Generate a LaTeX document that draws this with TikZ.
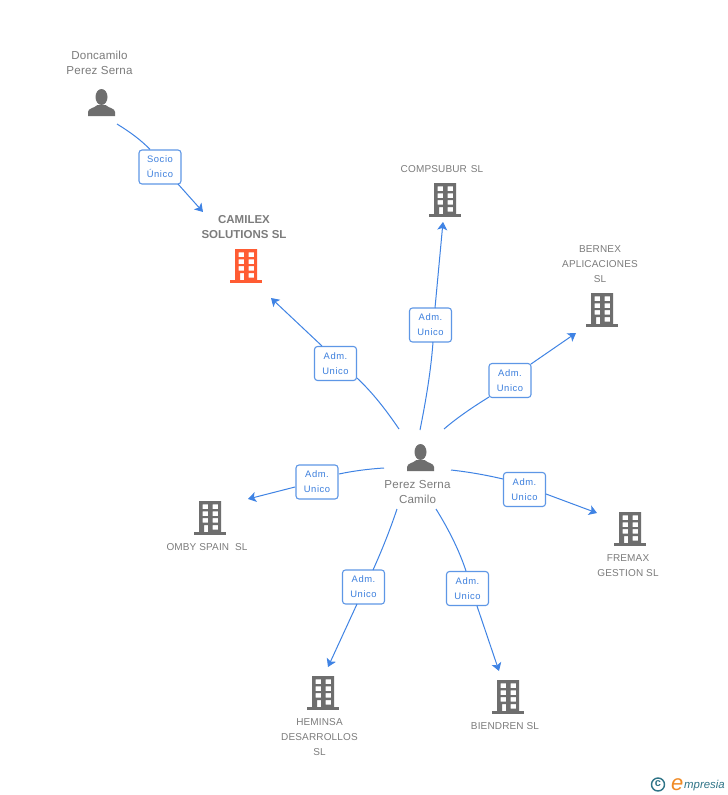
\documentclass[tikz,border=0pt]{standalone}
\usepackage{fontspec}
\setmainfont{Liberation Sans}
\newfontfamily\lblfont[LetterSpace=6]{Liberation Sans}
\newfontfamily\namefont[LetterSpace=1.5]{Liberation Sans}
\usetikzlibrary{arrows.meta}
\definecolor{edgeblue}{HTML}{3F83E4}
\definecolor{boxblue}{HTML}{5E97E6}
\definecolor{lbltext}{HTML}{3C7FDD}
\definecolor{nametext}{HTML}{7C7C7C}
\definecolor{icongray}{HTML}{6E6E6E}
\definecolor{iconorange}{HTML}{FF5C33}
\definecolor{logoteal}{HTML}{2F7487}
\definecolor{logoorange}{HTML}{F08A24}
\tikzset{
  relbox/.style={draw=boxblue,line width=1.1pt,rounded corners=3pt,fill=white,
    minimum width=42pt,minimum height=34pt,inner sep=0pt,align=center,
    text=lbltext,font=\lblfont\fontsize{9.4}{15}\selectfont},
  namelabel/.style={inner sep=0pt,align=center,text=nametext,font=\namefont\fontsize{10}{15}\selectfont},
  personlabel/.style={inner sep=0pt,align=center,text=nametext,font=\namefont\fontsize{11.6}{15}\selectfont},
  boldlabel/.style={inner sep=0pt,align=center,text=nametext,font=\bfseries\fontsize{11.5}{15}\selectfont},
  rel/.style={draw=edgeblue,line width=1pt},
  relarrow/.style={rel,-{Stealth[length=8pt,width=10pt,inset=2pt]}},
  building/.pic={
    \fill[pic actions] (-16,31) rectangle (16,34);
    \fill[pic actions,even odd rule] (-11,0) rectangle (11,32)
      (-7.5,3.3) rectangle (-2,8) (2.5,3.3) rectangle (8,8)
      (-7.5,10.3) rectangle (-2,15) (2.5,10.3) rectangle (8,15)
      (-7.5,17) rectangle (-2,21.7) (2.5,17) rectangle (8,21.7)
      (-6,24) rectangle (-2,31) (2.5,24) rectangle (8,28.7);
  },
  person/.pic={
    \fill[pic actions] (0,0) ellipse [x radius=6,y radius=8];
    \fill[pic actions] (-13.5,19) -- (-13.5,15) .. controls (-13,11) and (-8,11.5) .. (-4,8)
      -- (4,8) .. controls (8,11.5) and (13,11) .. (13.5,15) -- (13.5,19) -- cycle;
  }
}
\begin{document}
\begin{tikzpicture}[x=1pt,y=-1pt]
\useasboundingbox (0,0) rectangle (728,795);
\fill[white] (0,0) rectangle (728,795);

% people
\pic[icongray] at (101.5,97) {person};
\pic[icongray] at (420.5,452) {person};
\node[personlabel] (don) at (99.5,62.5) {Doncamilo\\Perez Serna};
\node[personlabel] (per) at (417.5,492.5) {Perez Serna\\Camilo};

% buildings
\pic[iconorange] at (246,249) {building};
\pic[icongray] at (445,183) {building};
\pic[icongray] at (602,293) {building};
\pic[icongray] at (210,501) {building};
\pic[icongray] at (630,512) {building};
\pic[icongray] at (323,676) {building};
\pic[icongray] at (508,680) {building};

\node[boldlabel] (cam) at (244,227.5) {CAMILEX\\SOLUTIONS SL};
\node[namelabel] (com) at (442,169) {COMPSUBUR\hspace{1pt} SL};
\node[namelabel] (ber) at (600,264) {BERNEX\\APLICACIONES\\SL};
\node[namelabel] (omb) at (207,547) {OMBY SPAIN\hspace{3pt} SL};
\node[namelabel] (fre) at (628,565.5) {FREMAX\\GESTION SL};
\node[namelabel] (hem) at (319.5,737) {HEMINSA\\DESARROLLOS\\SL};
\node[namelabel] (bie) at (505,726) {BIENDREN SL};

% relation boxes
\node[relbox] (b0) at (160,167) {Socio\\Único};
\node[relbox] (b1) at (335.5,363.5) {Adm.\\Unico};
\node[relbox] (b2) at (430.5,325) {Adm.\\Unico};
\node[relbox] (b3) at (510,380.5) {Adm.\\Unico};
\node[relbox] (b4) at (317,482) {Adm.\\Unico};
\node[relbox] (b5) at (524.5,489.5) {Adm.\\Unico};
\node[relbox] (b6) at (363.5,587) {Adm.\\Unico};
\node[relbox] (b7) at (467.5,588.5) {Adm.\\Unico};

% free connector ends
\coordinate (s0) at (117,124);  \coordinate (t0) at (203,212);
\coordinate (s1) at (399,429);  \coordinate (t1) at (271,298);
\coordinate (s2) at (420,430);  \coordinate (t2) at (443,222);
\coordinate (s3) at (444,429);  \coordinate (t3) at (576,333);
\coordinate (s4) at (384,468);  \coordinate (t4) at (248,499);
\coordinate (s5) at (451,470);  \coordinate (t5) at (597,513);
\coordinate (s6) at (397,509);  \coordinate (t6) at (328,667);
\coordinate (s7) at (436,509);  \coordinate (t7) at (499,671);

% connectors
\draw[rel] (s0) .. controls (130,132) and (141,140) .. (b0.north -| 150,0);
\draw[relarrow] (178,184) -- (t0);
\draw[rel] (s1) .. controls (386,410) and (373,393) .. (357,378);
\draw[relarrow] (322,346) -- (t1);
\draw[rel] (s2) .. controls (426,400) and (431,370) .. (433,342);
\draw[relarrow] (435,308) -- (t2);
\draw[rel] (s3) .. controls (458,417) and (473,407) .. (489,397);
\draw[relarrow] (531,364) -- (t3);
\draw[rel] (s4) .. controls (368,469) and (353,471) .. (339,474);
\draw[relarrow] (295,487) -- (t4);
\draw[rel] (s5) .. controls (469,472) and (486,475) .. (503,479);
\draw[relarrow] (546,494) -- (t5);
\draw[rel] (s6) .. controls (390,530) and (382,550) .. (373,570);
\draw[relarrow] (357,604) -- (t6);
\draw[rel] (s7) .. controls (449,530) and (459,550) .. (466,571);
\draw[relarrow] (477,606) -- (t7);

% logo
\node[circle,draw=logoteal,line width=1.4pt,inner sep=0pt,minimum size=13pt,text=logoteal,font=\bfseries\fontsize{11}{11}\selectfont] (lc) at (658,784.5) {\raisebox{1pt}{c}};
\node[anchor=base west,inner sep=0pt,text=logoorange,font=\itshape\fontsize{22}{22}\selectfont] (le) at (671,790) {e};
\node[anchor=base west,inner sep=0pt,text=logoteal,font=\itshape\fontsize{11.4}{12}\selectfont] (lm) at (684,788.5) {mpresia};
\end{tikzpicture}
\end{document}
